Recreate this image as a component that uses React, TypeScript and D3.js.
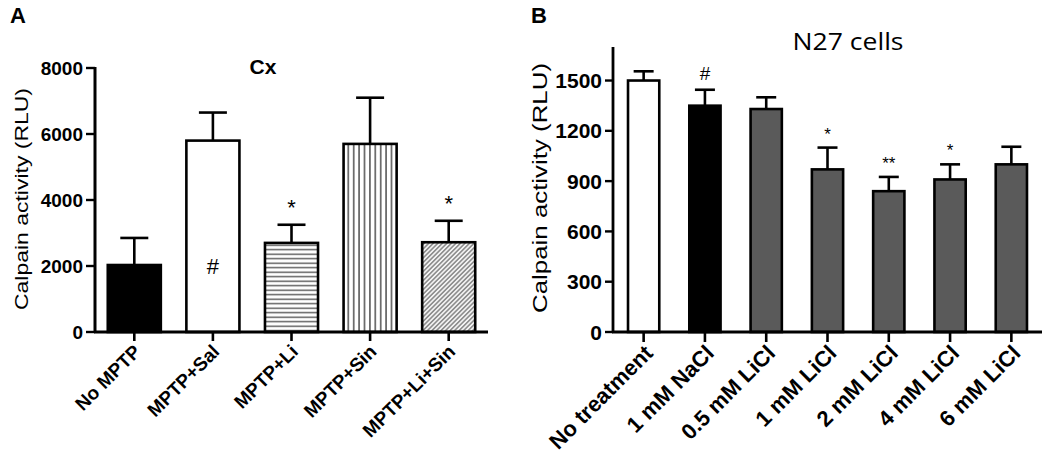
import React from "react";
import * as d3 from "d3";

const catsA = ["No MPTP", "MPTP+Sal", "MPTP+Li", "MPTP+Sin", "MPTP+Li+Sin"];
const meansA = [2030, 5800, 2700, 5700, 2720];
const errA = [2850, 6650, 3250, 7100, 3370];
const fillsA = ["#000", "#fff", "url(#hpat)", "url(#vpat)", "url(#dpat)"];
const marksA = ["", "#", "*", "", "*"];
const ticksA = [0, 2000, 4000, 6000, 8000];

const catsB = ["No treatment", "1 mM NaCl", "0.5 mM LiCl", "1 mM LiCl", "2 mM LiCl", "4 mM LiCl", "6 mM LiCl"];
const meansB = [1500, 1350, 1330, 970, 840, 910, 1000];
const errB = [1555, 1445, 1400, 1100, 925, 1000, 1105];
const fillsB = ["#fff", "#000", "#5a5a5a", "#5a5a5a", "#5a5a5a", "#5a5a5a", "#5a5a5a"];
const marksB = ["", "#", "", "*", "**", "*", ""];
const ticksB = [0, 300, 600, 900, 1200, 1500];

const FONT = "'Liberation Sans', Arial, sans-serif";

export default function App() {
  // Panel A scales
  const xA = d3.scaleBand<string>().domain(catsA).range([95, 488]).paddingInner(0.325).paddingOuter(0.1625);
  const yA = d3.scaleLinear().domain([0, 8000]).range([332, 68]);
  // Panel B scales
  const xB = d3.scaleBand<string>().domain(catsB).range([613, 1042]).paddingInner(0.49).paddingOuter(0.245);
  const yB = d3.scaleLinear().domain([0, 1700]).range([332, 47]);

  const sw = 2.6;

  return (
    <svg width={1050} height={463} style={{ position: "absolute", left: 0, top: 0, background: "#fff" }} fontFamily={FONT}>
      <defs>
        <pattern id="hpat" patternUnits="userSpaceOnUse" width={10} height={4.5}>
          <rect width={10} height={4.5} fill="#fff" />
          <line x1={0} x2={10} y1={2.2} y2={2.2} stroke="#555" strokeWidth={1.4} />
        </pattern>
        <pattern id="vpat" patternUnits="userSpaceOnUse" width={5.4} height={10}>
          <rect width={5.4} height={10} fill="#fff" />
          <line x1={2.7} x2={2.7} y1={0} y2={10} stroke="#333" strokeWidth={1.3} />
        </pattern>
        <pattern id="dpat" patternUnits="userSpaceOnUse" width={3.2} height={10} patternTransform="rotate(45)">
          <rect width={3.2} height={10} fill="#f2f2f2" />
          <line x1={1.6} x2={1.6} y1={0} y2={10} stroke="#777" strokeWidth={1.3} />
        </pattern>
      </defs>

      {/* Panel labels */}
      <text x={10} y={23} fontSize={22} fontWeight="bold">A</text>
      <text x={531} y={23} fontSize={22} fontWeight="bold">B</text>

      {/* ---------- Panel A ---------- */}
      <text x={263} y={74} fontSize={21} fontWeight="bold" textAnchor="middle">Cx</text>
      <text transform="translate(28,199) rotate(-90)" fontSize={19} textAnchor="middle" textLength={222} lengthAdjust="spacingAndGlyphs">Calpain activity (RLU)</text>

      {catsA.map((c, i) => {
        const x0 = xA(c)!;
        const w = xA.bandwidth();
        const cx = x0 + w / 2;
        return (
          <g key={c}>
            <line x1={cx} x2={cx} y1={yA(meansA[i])} y2={yA(errA[i])} stroke="#000" strokeWidth={sw} />
            <line x1={cx - 14} x2={cx + 14} y1={yA(errA[i])} y2={yA(errA[i])} stroke="#000" strokeWidth={sw} />
            <rect x={x0} y={yA(meansA[i])} width={w} height={yA(0) - yA(meansA[i])} fill={fillsA[i]} stroke="#000" strokeWidth={sw} />
            {marksA[i] === "#" && (
              <text x={cx} y={274} fontSize={22} textAnchor="middle">#</text>
            )}
            {marksA[i] === "*" && (
              <text x={cx} y={yA(errA[i]) - 10} fontSize={22} textAnchor="middle">*</text>
            )}
            <line x1={cx} x2={cx} y1={332} y2={341} stroke="#000" strokeWidth={sw} />
            <text transform={`translate(${cx + 3},${348}) rotate(-45)`} fontSize={19} fontWeight="bold" textAnchor="end" dy="0.35em">{c}</text>
          </g>
        );
      })}
      <line x1={95} x2={95} y1={yA(8000) - 1} y2={yA(0)} stroke="#000" strokeWidth={3} />
      <line x1={94} x2={488} y1={332} y2={332} stroke="#000" strokeWidth={3} />
      {ticksA.map((t) => (
        <g key={t}>
          <line x1={86} x2={95} y1={yA(t)} y2={yA(t)} stroke="#000" strokeWidth={2.4} />
          <text x={83} y={yA(t)} dy="0.36em" fontSize={19} fontWeight="bold" textAnchor="end">{t}</text>
        </g>
      ))}

      {/* ---------- Panel B ---------- */}
      <text x={848} y={50} fontSize={24} textAnchor="middle" fontFamily="'Open Sans', 'Noto Sans', sans-serif" textLength={111} lengthAdjust="spacingAndGlyphs">N27 cells</text>
      <text transform="translate(547,188) rotate(-90)" fontSize={21} textAnchor="middle" textLength={250} lengthAdjust="spacingAndGlyphs">Calpain activity (RLU)</text>

      {catsB.map((c, i) => {
        const x0 = xB(c)!;
        const w = xB.bandwidth();
        const cx = x0 + w / 2;
        return (
          <g key={c}>
            <line x1={cx} x2={cx} y1={yB(meansB[i])} y2={yB(errB[i])} stroke="#000" strokeWidth={sw} />
            <line x1={cx - 10} x2={cx + 10} y1={yB(errB[i])} y2={yB(errB[i])} stroke="#000" strokeWidth={sw} />
            <rect x={x0} y={yB(meansB[i])} width={w} height={yB(0) - yB(meansB[i])} fill={fillsB[i]} stroke="#000" strokeWidth={sw} />
            {marksB[i] && (
              <text x={cx} y={yB(errB[i]) - (marksB[i] === "#" ? 10 : 8)} fontSize={marksB[i] === "#" ? 19 : 17} textAnchor="middle">{marksB[i]}</text>
            )}
            <line x1={cx} x2={cx} y1={332} y2={342} stroke="#000" strokeWidth={sw} />
            <text transform={`translate(${cx + 5},${349}) rotate(-45)`} fontSize={22} fontWeight="bold" textAnchor="end" dy="0.35em">{c}</text>
          </g>
        );
      })}
      <line x1={613} x2={613} y1={yB(1700)} y2={yB(0)} stroke="#000" strokeWidth={2.8} />
      <line x1={612} x2={1042} y1={332} y2={332} stroke="#000" strokeWidth={2.8} />
      {ticksB.map((t) => (
        <g key={t}>
          <line x1={605} x2={613} y1={yB(t)} y2={yB(t)} stroke="#000" strokeWidth={2.4} />
          <text x={602} y={yB(t)} dy="0.36em" fontSize={21} fontWeight="bold" textAnchor="end">{t}</text>
        </g>
      ))}
    </svg>
  );
}
